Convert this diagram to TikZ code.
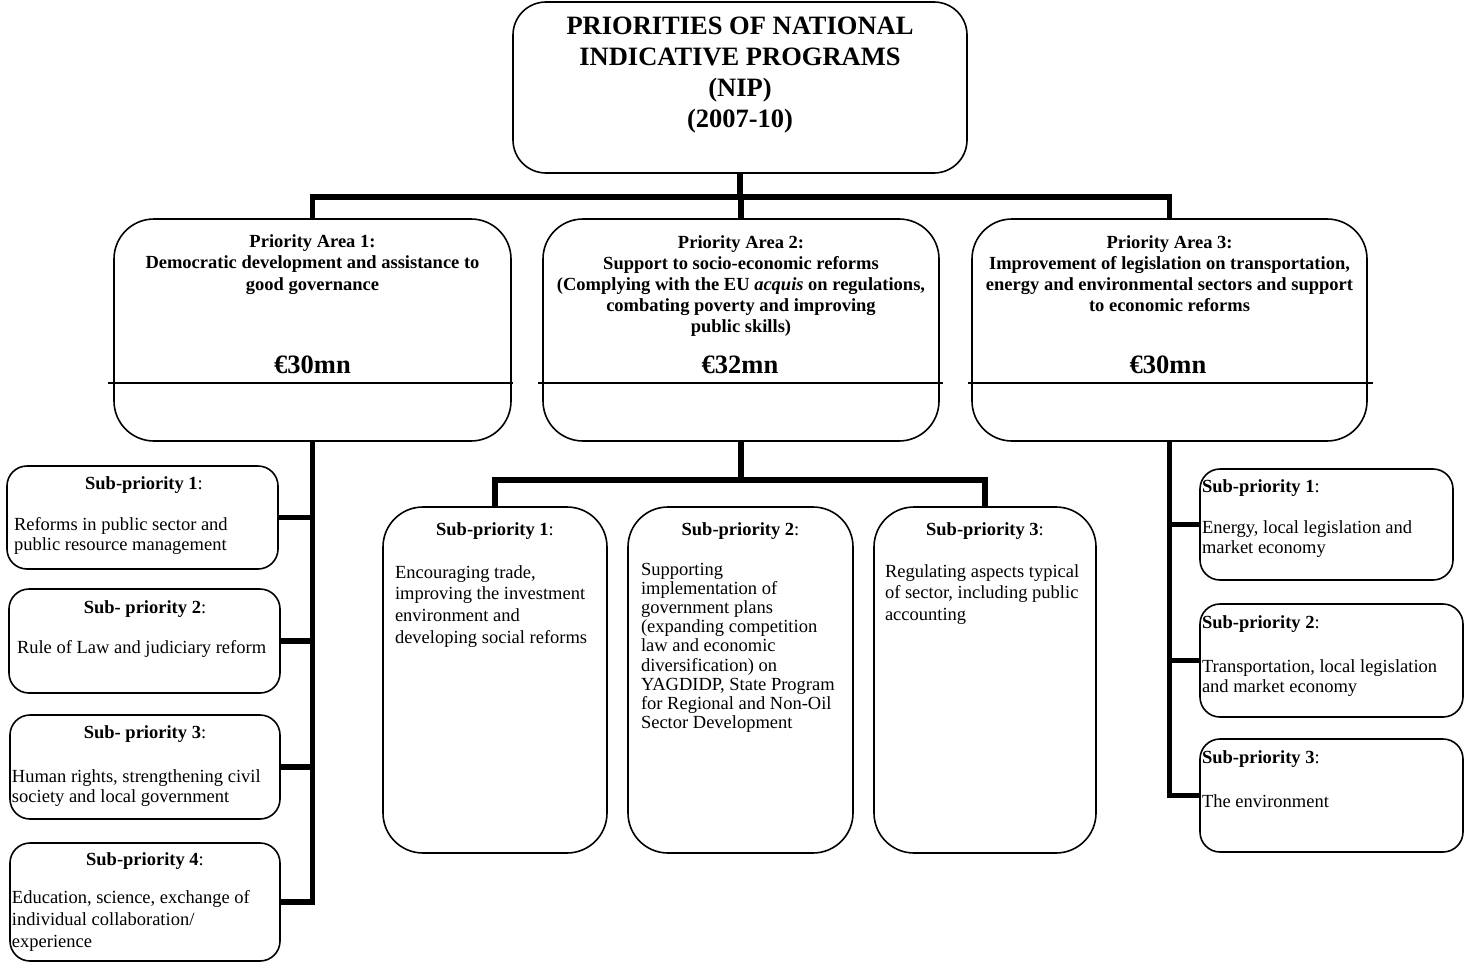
\documentclass[tikz,border=0pt]{standalone}
\usepackage{fontspec}
\setmainfont{Liberation Serif}
\newcommand{\bodyfs}[1]{\fontsize{18.5}{#1}\selectfont}
\newcommand{\ltx}[2]{\parbox[t]{320pt}{\raggedright\bodyfs{#1}#2}}
\newcommand{\ctx}[3]{\parbox[t]{#1}{\centering\bodyfs{#2}#3}}
\tikzset{
  box/.style={draw, line width=1.6pt, rounded corners=#1, inner sep=0pt, outer sep=0pt, anchor=north west},
  box/.default=20pt,
  conn/.style={line width=5.5pt},
  thinline/.style={line width=1.5pt},
  txt/.style={inner sep=0pt, outer sep=0pt},
}
\begin{document}
\begin{tikzpicture}[x=1pt,y=-1pt]
\useasboundingbox (0,0) rectangle (1464,963);

% ---------- boxes ----------
\node[box=33pt, minimum width=454pt, minimum height=171pt] (title) at (513,2) {};
\node[box=40pt, minimum width=397pt, minimum height=222pt] (pa1) at (114,219) {};
\node[box=40pt, minimum width=396pt, minimum height=222pt] (pa2) at (543,219) {};
\node[box=40pt, minimum width=395pt, minimum height=222pt] (pa3) at (972,219) {};

\node[box, minimum width=271pt, minimum height=103pt] (l1) at (7,466) {};
\node[box, minimum width=271pt, minimum height=104pt] (l2) at (9,589) {};
\node[box, minimum width=270pt, minimum height=104pt] (l3) at (10,715) {};
\node[box, minimum width=270pt, minimum height=118pt] (l4) at (10,843) {};

\node[box=40pt, minimum width=224pt, minimum height=346pt] (m1) at (383,507) {};
\node[box=40pt, minimum width=225pt, minimum height=346pt] (m2) at (628,507) {};
\node[box=40pt, minimum width=222pt, minimum height=346pt] (m3) at (874,507) {};

\node[box, minimum width=253pt, minimum height=111pt] (r1) at (1200,469) {};
\node[box, minimum width=263pt, minimum height=113pt] (r2) at (1200,604) {};
\node[box, minimum width=263pt, minimum height=113pt] (r3) at (1200,739) {};

% ---------- horizontal rules in priority boxes ----------
\draw[thinline] ([xshift=-6pt]pa1.west |- 0,383) -- ([xshift=2pt]pa1.east |- 0,383);
\draw[thinline] ([xshift=-5pt]pa2.west |- 0,383) -- ([xshift=4pt]pa2.east |- 0,383);
\draw[thinline] ([xshift=-4pt]pa3.west |- 0,383) -- ([xshift=6pt]pa3.east |- 0,383);

% ---------- connectors ----------
\coordinate (bar) at (740,197);
\coordinate (mbar) at (741,480);
\draw[conn] (title.south) -- (title.south |- bar);
\draw[conn] (pa1.north) |- (pa3.north |- bar) -- (pa3.north);
\draw[conn] (pa2.north) -- (pa2.north |- bar);

\draw[conn] (pa1.south) |- (l4.east);
\draw[conn] (l1.east) -- (l1.east -| pa1.south);
\draw[conn] (l2.east) -- (l2.east -| pa1.south);
\draw[conn] (l3.east) -- (l3.east -| pa1.south);

\draw[conn] (pa2.south) -- (pa2.south |- mbar);
\draw[conn] (m1.north) |- (m3.north |- mbar) -- (m3.north);

\draw[conn] (pa3.south) |- (r3.west);
\draw[conn] (r1.west) -- (r1.west -| pa3.south);
\draw[conn] (r2.west) -- (r2.west -| pa3.south);

% ---------- texts ----------
\node[txt, anchor=base] (ttitle) at (740,35) {\parbox[t]{450pt}{\centering\fontsize{26.5}{31}\selectfont\bfseries
  PRIORITIES OF NATIONAL\\ INDICATIVE PROGRAMS\\ (NIP)\\ (2007-10)}};

\node[txt, anchor=base] (tpa1) at (312.5,247) {\ctx{390pt}{21.5}{\bfseries Priority Area 1:\\ Democratic development and assistance to\\ good governance}};
\node[txt, anchor=base] (tpa2) at (741,248) {\ctx{390pt}{21}{\bfseries Priority Area 2:\\ Support to socio-economic reforms\\ (Complying with the EU \textit{acquis} on regulations,\\ combating poverty and improving\\ public skills)}};
\node[txt, anchor=base] (tpa3) at (1169.5,248) {\ctx{390pt}{21.3}{\bfseries Priority Area 3:\\ Improvement of legislation on transportation,\\ energy and environmental sectors and support\\ to economic reforms}};

\node[txt, anchor=base] (e1) at (312.5,373) {\fontsize{26.5}{31}\selectfont\bfseries €30mn};
\node[txt, anchor=base] (e2) at (740,373) {\fontsize{26.5}{31}\selectfont\bfseries €32mn};
\node[txt, anchor=base] (e3) at (1168,373) {\fontsize{26.5}{31}\selectfont\bfseries €30mn};

% left sub-priorities
\node[txt, anchor=base] (tl1h) at (144,489) {\bodyfs{20}\textbf{Sub-priority 1}:};
\node[txt, anchor=base west] (tl1) at (14,530) {\ltx{20}{Reforms in public sector and\\ public resource management}};
\node[txt, anchor=base] (tl2h) at (145,613) {\bodyfs{20}\textbf{Sub- priority 2}:};
\node[txt, anchor=base west] (tl2) at (17,653) {\ltx{20}{Rule of Law and judiciary reform}};
\node[txt, anchor=base] (tl3h) at (145,738) {\bodyfs{20}\textbf{Sub- priority 3}:};
\node[txt, anchor=base west] (tl3) at (12,782) {\ltx{20}{Human rights, strengthening civil\\ society and local government}};
\node[txt, anchor=base] (tl4h) at (145,865) {\bodyfs{20}\textbf{Sub-priority 4}:};
\node[txt, anchor=base west] (tl4) at (12,903) {\ltx{22}{Education, science, exchange of\\ individual collaboration/\\ experience}};

% middle sub-priorities
\node[txt, anchor=base] (tm1h) at (495,535) {\bodyfs{20}\textbf{Sub-priority 1}:};
\node[txt, anchor=base west] (tm1) at (395,578) {\ltx{21.7}{Encouraging trade,\\ improving the investment\\ environment and\\ developing social reforms}};
\node[txt, anchor=base] (tm2h) at (740.5,535) {\bodyfs{20}\textbf{Sub-priority 2}:};
\node[txt, anchor=base west] (tm2) at (641,575) {\ltx{19.2}{Supporting\\ implementation of\\ government plans\\ (expanding competition\\ law and economic\\ diversification) on\\ YAGDIDP, State Program\\ for Regional and Non-Oil\\ Sector Development}};
\node[txt, anchor=base] (tm3h) at (985,535) {\bodyfs{20}\textbf{Sub-priority 3}:};
\node[txt, anchor=base west] (tm3) at (885,577) {\ltx{21.5}{Regulating aspects typical\\ of sector, including public\\ accounting}};

% right sub-priorities
\node[txt, anchor=base west] (tr1h) at (1202,492) {\bodyfs{20}\textbf{Sub-priority 1}:};
\node[txt, anchor=base west] (tr1) at (1202,533) {\ltx{20.5}{Energy, local legislation and\\ market economy}};
\node[txt, anchor=base west] (tr2h) at (1202,628) {\bodyfs{20}\textbf{Sub-priority 2}:};
\node[txt, anchor=base west] (tr2) at (1202,672) {\ltx{20.5}{Transportation, local legislation\\ and market economy}};
\node[txt, anchor=base west] (tr3h) at (1202,763) {\bodyfs{20}\textbf{Sub-priority 3}:};
\node[txt, anchor=base west] (tr3) at (1202,807) {\ltx{20.5}{The environment}};

\end{tikzpicture}
\end{document}
